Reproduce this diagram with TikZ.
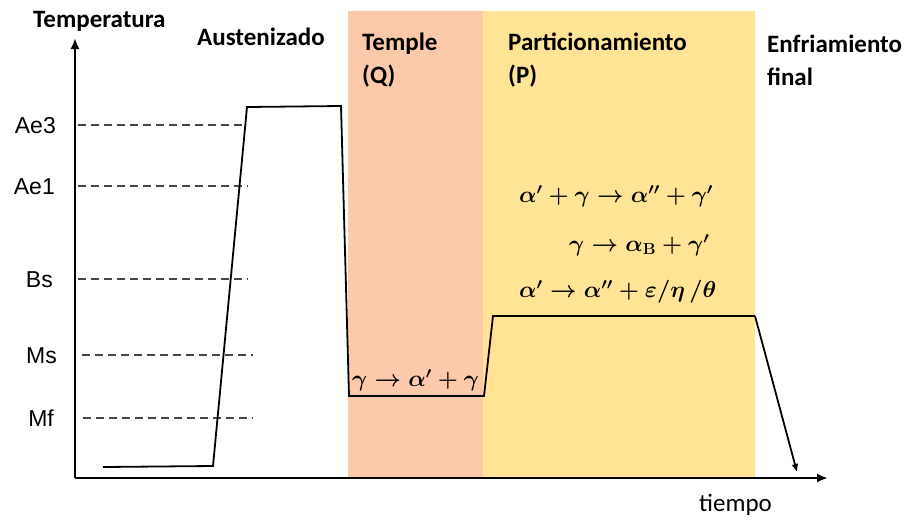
\documentclass[tikz,border=0pt]{standalone}
\usepackage[no-math]{fontspec}
\usepackage{amsmath,bm,graphicx}
\setmainfont{Carlito}
\newfontfamily\tickfont{Liberation Sans}
\usetikzlibrary{arrows.meta}
\definecolor{salmonc}{RGB}{252,202,170}
\definecolor{yellowc}{RGB}{255,228,150}
\definecolor{dashc}{RGB}{70,70,70}
\newcommand{\eqtext}[1]{\scalebox{1.11}{\fontsize{20.74}{25}\selectfont\boldmath$#1$}}
\begin{document}
\begin{tikzpicture}[x=1pt,y=-1pt,
  axisline/.style={line width=2.6pt,-{Latex[length=11pt,width=9pt]}},
  curve/.style={line width=1.8pt,line join=miter},
  guide/.style={dashc,line width=1.6pt,dash pattern=on 8pt off 5pt},
  ticklbl/.style={anchor=east,font=\tickfont\fontsize{23}{26}\selectfont,inner sep=0pt},
  title/.style={anchor=west,font=\bfseries\fontsize{25}{29}\selectfont,inner sep=0pt,align=left},
  eqn/.style={anchor=west,inner sep=0pt}]
\useasboundingbox (0,0) rectangle (915,522);
% phase bands
\fill[salmonc] (348,11) rectangle (483,478);
\fill[yellowc] (483,11) rectangle (755,478);
% axes
\coordinate (ytop) at (75,38);
\coordinate (O) at (75,478);
\coordinate (xend) at (828,478);
\draw[axisline] (O) -- (ytop);
\draw[axisline] (O) -- (xend);
% tick labels
\node[ticklbl] (ae3) at (56,126) {Ae3};
\node[ticklbl] (ae1) at (55,187) {Ae1};
\node[ticklbl] (bs) at (53,280) {Bs};
\node[ticklbl] (ms) at (57,356) {Ms};
\node[ticklbl] (mf) at (54,418) {Mf};
% guide lines
\coordinate (g1a) at (78,125); \coordinate (g1b) at (245,125);
\coordinate (g2a) at (78,186); \coordinate (g2b) at (248,186);
\coordinate (g3a) at (78,279); \coordinate (g3b) at (248,279);
\coordinate (g4a) at (82,355); \coordinate (g4b) at (253,355);
\coordinate (g5a) at (83,418); \coordinate (g5b) at (253,418);
\draw[guide] (g1a) -- (g1b);
\draw[guide] (g2a) -- (g2b);
\draw[guide] (g3a) -- (g3b);
\draw[guide] (g4a) -- (g4b);
\draw[guide] (g5a) -- (g5b);
% thermal path
\coordinate (p0) at (103,467);
\coordinate (p1) at (213,466);
\coordinate (p2) at (247,107);
\coordinate (p3) at (341,106);
\coordinate (p4) at (349,396);
\coordinate (p5) at (484,396);
\coordinate (p6) at (493,316);
\coordinate (p7) at (755,316);
\coordinate (p8) at (797,472);
\draw[curve] (p0) -- (p1) -- (p2) -- (p3) -- (p4) -- (p5) -- (p6) -- (p7);
\draw[curve,-{Latex[length=8pt,width=7pt]}] (p7) -- (p8);
% titles
\node[title] (temp) at (33,21) {Temperatura};
\node[title] (aust) at (197,37) {Austenizado};
\node[title] (q) at (362,60) {Temple\\[4pt](Q)};
\node[title] (p) at (508,60) {Particionamiento\\[4pt](P)};
\node[title] (ef) at (767,60) {Enfriamiento\\[4pt]final};
\node[title,font=\fontsize{25}{29}\selectfont] (tiempo) at (699,505) {tiempo};
% reactions
\node[eqn] (r1) at (519,196) {\eqtext{\alpha' + \gamma \rightarrow \alpha'' + \gamma'}};
\node[eqn] (r2) at (569,245) {\eqtext{\gamma \rightarrow \alpha_{\mathrm{B}} + \gamma'}};
\node[eqn] (r3) at (519,292) {\eqtext{\alpha' \rightarrow \alpha'' + \varepsilon/\eta\,/\theta}};
\node[eqn] (r4) at (352,380) {\eqtext{\gamma \rightarrow \alpha' + \gamma}};
\end{tikzpicture}
\end{document}
